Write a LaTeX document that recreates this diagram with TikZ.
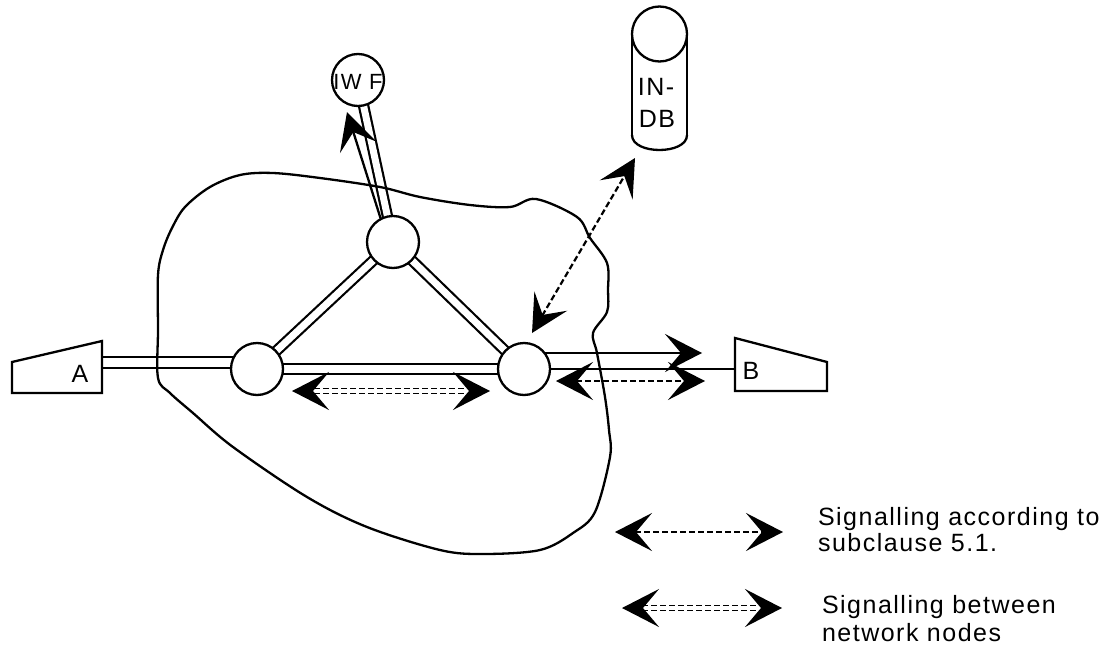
\documentclass[tikz,border=0pt]{standalone}
\usepackage{fontspec}
\setmainfont[LetterSpace=6]{Liberation Sans}
\usetikzlibrary{arrows.meta}
\begin{document}
\begin{tikzpicture}[x=1pt,y=-1pt,
  every node/.style={inner sep=0pt,outer sep=0pt},
  ln/.style={line width=2.3pt},
  dbl/.style={double,double distance=7pt,line width=2.2pt},
  dsh/.style={line width=2.2pt,dash pattern=on 6pt off 3pt},
  dsh2/.style={line width=1.8pt,dash pattern=on 6pt off 3pt},
  tipsonly/.style={line width=2pt,dash pattern=on 0pt off 900pt},
  hub/.style={circle,draw,fill=white,line width=2.3pt,minimum size=52pt},
  lbl/.style={font=\fontsize{25}{28}\selectfont},
  >={Stealth[length=37pt,width=38pt,inset=16pt]}]
\useasboundingbox (0,0) rectangle (1113,645);

% network nodes
\coordinate (Lc) at (257,369);
\coordinate (Rc) at (524,369);
\coordinate (Tc) at (393,242);
\coordinate (Ic) at (358,80);
\coordinate (aR) at (102,362.5);
\coordinate (bL) at (735,369);

% double links
\draw[dbl,double distance=9pt] (aR) -- (aR -| Lc);
\draw[dbl,double distance=8pt] (Lc) -- (Rc);
\draw[dbl] (Lc) -- (Tc);
\draw[dbl] (Tc) -- (Rc);
\draw[dbl] (Tc) -- (Ic);

% cloud
\draw[ln] plot[smooth cycle,tension=0.55] coordinates {
 (158,378) (158,330) (158,275) (163,250) (172,228) (185,207) (210,187)
 (240,175) (273,173) (320,178) (380,187) (420,197) (470,205) (510,207)
 (536,199) (577,217) (590,238) (607,263) (608,290) (607,312) (593,333)
 (597,353) (605,397) (609,430) (610,457) (595,512) (573,533) (540,550)
 (483,554) (440,550) (367,527) (307,497) (233,447) (193,413) (170,393)};

\node[hub] (L) at (Lc) {};
\node[hub] (R) at (Rc) {};
\node[hub] (T) at (Tc) {};
\node[hub] (IWF) at (Ic) {};
\node[lbl,font=\fontsize{22}{24}\selectfont,anchor=base] at (358,89) {IW F};

% terminals A and B
\draw[ln,line join=miter] (12,362) -- (102,341) -- (102,393) -- (12,393) -- cycle;
\node[lbl,anchor=base] (A) at (80,382) {A};
\draw[ln,line join=miter] (735,338) -- (827,362) -- (827,391) -- (735,391) -- cycle;
\node[lbl,anchor=base] (B) at (751,379) {B};
\draw[ln] (R.east) -- (bL);
\coordinate (bArr) at (702,353);
\draw[ln,->] (R.38) -- (R.38 -| bArr);

% IWF arrow
\coordinate (iwA) at (347,112);
\draw[ln,->] (T.118) -- (iwA);

% IN-DB
\draw[ln] (659.5,34) circle[radius=27.5pt];
\draw[ln] (632,34) -- (632,135);
\draw[ln] (687,34) -- (687,135);
\draw[ln] (632,135) .. controls (632,155) and (687,155) .. (687,135);
\node[lbl,anchor=base] (db1) at (656,95) {IN-};
\node[lbl,anchor=base] (db2) at (657,127) {DB};
\coordinate (dbA) at (635,158);
\coordinate (rA) at (532,333);
\draw[dsh,<->] (rA) -- (dbA);

% signalling according to 5.1 (right of R)
\coordinate (s1) at (556,381);
\coordinate (s2) at (705,381);
\draw[dsh,<->] (s1) -- (s2);

% signalling between network nodes (L-R)
\coordinate (m1) at (292,391);
\coordinate (m2) at (490,391);
\draw[tipsonly,<->] (m1) -- (m2);
\draw[dsh2,shorten <=22pt,shorten >=22pt] ([yshift=2.5pt]m1) -- ([yshift=2.5pt]m2);
\draw[dsh2,shorten <=22pt,shorten >=22pt] ([yshift=-2.5pt]m1) -- ([yshift=-2.5pt]m2);

% legend
\coordinate (g1) at (615,532);
\coordinate (g2) at (783,532);
\draw[dsh,<->] (g1) -- (g2);
\node[lbl,anchor=base west] (t1) at (818,525) {Signalling according to};
\node[lbl,anchor=base west] (t2) at (818,551) {subclause 5.1.};
\coordinate (h1) at (622,608);
\coordinate (h2) at (782,608);
\draw[tipsonly,<->] (h1) -- (h2);
\draw[dsh2,shorten <=20pt,shorten >=20pt] ([yshift=2.5pt]h1) -- ([yshift=2.5pt]h2);
\draw[dsh2,shorten <=20pt,shorten >=20pt] ([yshift=-2.5pt]h1) -- ([yshift=-2.5pt]h2);
\node[lbl,anchor=base west] (t3) at (822,613) {Signalling between};
\node[lbl,anchor=base west] (t4) at (822,641) {network nodes};
\end{tikzpicture}
\end{document}
